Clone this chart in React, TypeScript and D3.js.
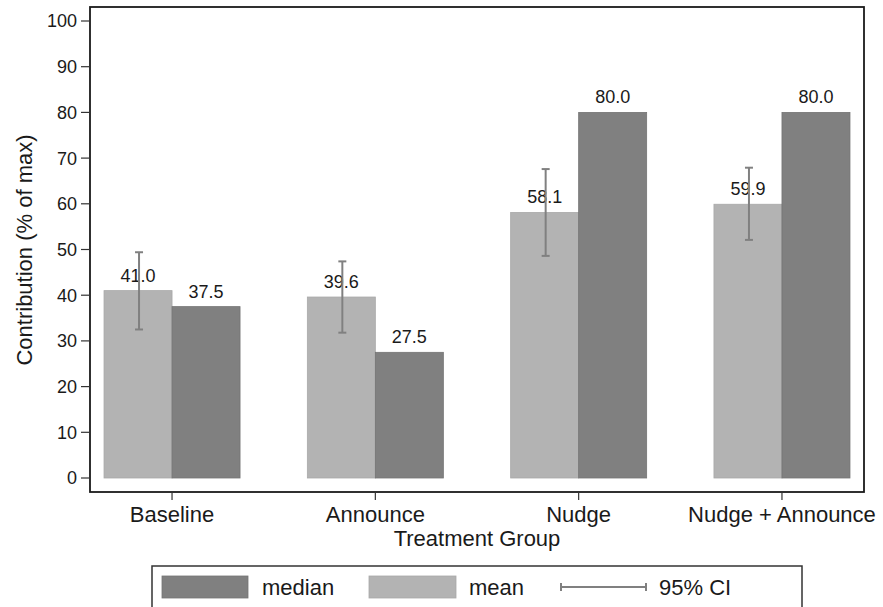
import React from "react";
import * as d3 from "d3";

const categories = ["Baseline", "Announce", "Nudge", "Nudge + Announce"];
const meanValues = [41.0, 39.6, 58.1, 59.9];
const medianValues = [37.5, 27.5, 80.0, 80.0];
const ciLow = [32.5, 31.8, 48.6, 52.1];
const ciHigh = [49.4, 47.4, 67.6, 67.9];
const yTicks = [0, 10, 20, 30, 40, 50, 60, 70, 80, 90, 100];

const W = 883;
const H = 607;
const frame = { left: 90, right: 864, top: 7, bottom: 492 };
const FONT = "'Liberation Sans', Arial, Helvetica, sans-serif";
const MEAN_COLOR = "#b3b3b3";
const MEDIAN_COLOR = "#808080";
const CI_COLOR = "#808080";
const TEXT = "#1a1a1a";

export default function App() {
  const x = d3.scalePoint<string>().domain(categories).range([frame.left, frame.right]).padding(0.4035);
  const y = d3.scaleLinear().domain([0, 100]).range([478, 21]);
  const step = x.step();
  const barW = step * 0.3345;

  return (
    <svg width={W} height={H} style={{ position: "fixed", left: 0, top: 0, background: "#fff" }} fontFamily={FONT}>
      <rect x={0} y={0} width={W} height={H} fill="#fff" />
      {/* bars */}
      {categories.map((c, i) => {
        const cx = x(c)!;
        return (
          <g key={c}>
            <rect x={cx - barW} y={y(meanValues[i])} width={barW} height={y(0) - y(meanValues[i])} fill={MEAN_COLOR} stroke="#a8a8a8" strokeWidth={0.8} />
            <rect x={cx} y={y(medianValues[i])} width={barW} height={y(0) - y(medianValues[i])} fill={MEDIAN_COLOR} stroke="#747474" strokeWidth={0.8} />
            <text x={cx - barW / 2} y={y(meanValues[i]) - 9} textAnchor="middle" fontSize={18} fill={TEXT}>{meanValues[i].toFixed(1)}</text>
            <text x={cx + barW / 2} y={y(medianValues[i]) - 9} textAnchor="middle" fontSize={18} fill={TEXT}>{medianValues[i].toFixed(1)}</text>
            {/* CI */}
            <g stroke={CI_COLOR} strokeWidth={2}>
              <line x1={cx - barW / 2 + 1} x2={cx - barW / 2 + 1} y1={y(ciLow[i])} y2={y(ciHigh[i])} />
              <line x1={cx - barW / 2 + 1 - 4} x2={cx - barW / 2 + 1 + 4} y1={y(ciLow[i])} y2={y(ciLow[i])} />
              <line x1={cx - barW / 2 + 1 - 4} x2={cx - barW / 2 + 1 + 4} y1={y(ciHigh[i])} y2={y(ciHigh[i])} />
            </g>
          </g>
        );
      })}
      {/* frame */}
      <rect x={frame.left} y={frame.top} width={frame.right - frame.left} height={frame.bottom - frame.top} fill="none" stroke="#1a1a1a" strokeWidth={1.8} />
      {/* y ticks */}
      {yTicks.map((t) => (
        <g key={t}>
          <line x1={frame.left - 9} x2={frame.left} y1={y(t)} y2={y(t)} stroke="#333" strokeWidth={1.2} />
          <text x={frame.left - 13} y={y(t)} dy="0.36em" textAnchor="end" fontSize={18} fill={TEXT}>{t}</text>
        </g>
      ))}
      {/* x ticks */}
      {categories.map((c) => (
        <g key={c}>
          <line x1={x(c)!} x2={x(c)!} y1={frame.bottom} y2={frame.bottom + 8} stroke="#333" strokeWidth={1.2} />
          <text x={x(c)!} y={522} textAnchor="middle" fontSize={22} fill={TEXT}>{c}</text>
        </g>
      ))}
      <text x={(frame.left + frame.right) / 2} y={546} textAnchor="middle" fontSize={22} fill={TEXT}>Treatment Group</text>
      <text transform={`translate(32,250) rotate(-90)`} textAnchor="middle" fontSize={22} fill={TEXT}>Contribution (% of max)</text>
      {/* legend */}
      <rect x={152} y={566} width={650} height={60} fill="#fff" stroke="#333" strokeWidth={1.5} />
      <rect x={162} y={576} width={86} height={22} fill={MEDIAN_COLOR} stroke="#747474" strokeWidth={0.8} />
      <text x={262} y={595} fontSize={22} fill={TEXT}>median</text>
      <rect x={369} y={576} width={87} height={22} fill={MEAN_COLOR} stroke="#a8a8a8" strokeWidth={0.8} />
      <text x={469} y={595} fontSize={22} fill={TEXT}>mean</text>
      <g stroke={CI_COLOR} strokeWidth={2}>
        <line x1={561} x2={646} y1={587} y2={587} />
        <line x1={561} x2={561} y1={583} y2={591} />
        <line x1={646} x2={646} y1={583} y2={591} />
      </g>
      <text x={659} y={595} fontSize={22} fill={TEXT}>95% CI</text>
    </svg>
  );
}
